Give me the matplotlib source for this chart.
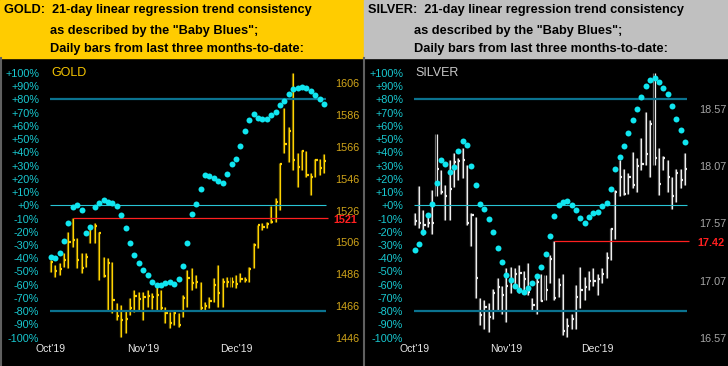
import matplotlib
matplotlib.use("Agg")
import matplotlib.pyplot as plt
import matplotlib.patches as mpatches
import matplotlib.transforms as mtransforms
from matplotlib.lines import Line2D
import numpy as np

plt.rcParams['font.family'] = ['Liberation Sans', 'DejaVu Sans']

W, H = 728, 366

months = ["Oct'19", "Nov'19", "Dec'19"]
month_pos = [0, 21, 42]
pct_ticks = list(range(-100, 101, 10))

# gold daily bars (high / low / close) and the "Baby Blues" consistency (%)
gold_high = [1494.9, 1491.7, 1492.8, 1499.1, 1512.7, 1521.0, 1508.5, 1499.1, 1499.1, 1515.8,
             1517.9, 1512.7, 1496.9, 1495.9, 1493.8, 1467.6, 1466.6, 1463.4, 1470.8, 1476.0,
             1474.9, 1474.9, 1476.0, 1474.3, 1479.1, 1476.0, 1465.5, 1462.4, 1463.4, 1461.3,
             1472.9, 1488.6, 1489.6, 1485.4, 1481.2, 1468.6, 1471.8, 1483.4, 1491.7, 1483.4,
             1484.4, 1484.4, 1485.4, 1486.5, 1484.4, 1490.7, 1505.4, 1516.9, 1517.9, 1519.0,
             1529.0, 1533.7, 1556.1, 1590.3, 1578.7, 1612.7, 1562.0, 1564.0, 1563.6, 1549.4,
             1558.2, 1558.2, 1561.3]
gold_low = [1487.5, 1484.4, 1485.4, 1490.7, 1489.6, 1503.2, 1489.6, 1486.5, 1490.7, 1505.4,
            1505.4, 1482.3, 1484.4, 1463.4, 1461.3, 1457.1, 1446.3, 1448.8, 1460.3, 1462.4,
            1463.4, 1457.1, 1465.5, 1463.9, 1463.4, 1463.4, 1455.1, 1451.9, 1454.0, 1452.9,
            1459.2, 1465.5, 1476.0, 1477.1, 1463.4, 1463.4, 1464.5, 1468.6, 1465.5, 1465.5,
            1478.1, 1478.1, 1477.1, 1481.2, 1481.2, 1481.2, 1489.6, 1502.2, 1513.7, 1514.8,
            1517.9, 1519.0, 1526.3, 1562.0, 1556.7, 1551.5, 1541.0, 1551.5, 1547.3, 1535.7,
            1547.3, 1548.3, 1549.4]
gold_close = [1493.8, 1487.9, 1489.0, 1494.9, 1506.4, 1507.4, 1494.9, 1489.6, 1496.9, 1515.8,
              1516.3, 1511.7, 1484.8, 1492.8, 1469.7, 1459.6, 1457.1, 1457.6, 1464.5, 1472.2,
              1470.2, 1471.4, 1472.2, 1471.4, 1472.9, 1464.5, 1461.3, 1455.1, 1461.3, 1454.0,
              1470.8, 1483.4, 1480.6, 1481.2, 1464.5, 1466.1, 1469.3, 1479.1, 1474.3, 1480.8,
              1480.8, 1480.8, 1479.8, 1482.9, 1482.3, 1489.2, 1504.3, 1516.9, 1515.8, 1517.5,
              1518.6, 1531.5, 1555.1, 1567.8, 1576.0, 1557.8, 1553.2, 1563.4, 1548.3, 1546.9,
              1557.8, 1552.5, 1557.3]
gold_blues = [-39.3, -39.8, -36.3, -27.0, -13.1, -1.3, 0.5, -3.3, -21.2, -16.2,
              -1.3, 2.0, 4.0, 2.7, 1.5, -0.3, -7.6, -17.4, -28.3, -37.3,
              -43.4, -49.1, -52.9, -57.7, -60.2, -60.2, -58.5, -57.7, -59.5, -55.7,
              -45.6, -28.3, -6.6, 0.8, 12.5, 22.9, 22.4, 20.9, 18.4, 16.6,
              23.6, 31.2, 35.2, 44.6, 56.1, 64.2, 69.2, 66.2, 65.0, 65.0,
              68.0, 70.7, 75.6, 78.6, 84.1, 87.6, 88.9, 89.2, 88.9, 86.1,
              83.1, 80.1, 76.3]
gold_ticks = [1446, 1466, 1486, 1506, 1526, 1546, 1566, 1586, 1606]
gold_ref = 1521
gold_ref_start = 5

# silver daily bars and its "Baby Blues"
silver_high = [17.66, 17.90, 17.69, 17.66, 17.86, 18.35, 18.04, 17.91, 18.13, 18.19,
               18.14, 18.23, 18.08, 17.66, 17.63, 16.92, 16.90, 16.87, 17.00, 17.09,
               17.02, 17.18, 17.19, 17.18, 17.21, 17.15, 17.22, 16.92, 17.10, 17.13,
               17.12, 17.29, 17.42, 17.09, 17.13, 16.74, 16.78, 17.03, 17.19, 17.10,
               17.15, 17.18, 17.13, 17.18, 17.32, 17.53, 17.86, 18.13, 18.05, 18.01,
               18.20, 18.14, 18.32, 18.55, 18.48, 18.89, 18.23, 18.16, 18.13, 17.98,
               18.05, 18.05, 18.19]
silver_low = [17.56, 17.53, 17.47, 17.54, 17.48, 17.81, 17.83, 17.60, 17.60, 17.89,
              17.95, 17.97, 17.56, 17.37, 16.92, 16.68, 16.65, 16.62, 16.73, 16.81,
              16.78, 16.71, 16.96, 17.02, 16.96, 16.96, 16.94, 16.81, 16.78, 16.89,
              16.90, 17.05, 16.90, 16.93, 16.59, 16.58, 16.65, 16.65, 16.83, 16.90,
              16.99, 17.02, 16.94, 17.05, 17.09, 17.25, 17.43, 17.81, 17.82, 17.83,
              17.88, 17.85, 18.04, 18.08, 17.98, 18.08, 17.82, 18.04, 17.85, 17.70,
              17.76, 17.88, 17.91]
silver_close = [17.59, 17.57, 17.56, 17.57, 17.57, 18.05, 17.85, 17.81, 17.87, 18.11,
                18.12, 18.13, 17.57, 17.64, 17.09, 16.77, 16.84, 16.75, 16.96, 17.01,
                16.94, 17.02, 17.08, 17.13, 17.14, 17.08, 16.97, 16.86, 17.06, 16.89,
                16.99, 17.26, 16.92, 17.03, 16.63, 16.67, 16.73, 16.93, 16.99, 17.01,
                17.07, 17.07, 17.08, 17.13, 17.27, 17.52, 17.85, 17.98, 17.83, 17.98,
                17.91, 18.07, 18.09, 18.18, 18.44, 18.14, 17.92, 18.14, 17.98, 17.81,
                18.01, 17.95, 18.05]
silver_blues = [-34.0, -29.2, -20.2, -7.7, 1.0, 16.6, 34.2, 31.2, 25.4, 29.2,
                41.3, 48.8, 45.8, 29.5, 15.3, 0.8, -2.6, -10.6, -20.2, -32.3,
                -43.1, -52.7, -56.7, -60.7, -64.2, -65.3, -62.7, -58.5, -53.2, -46.4,
                -37.0, -23.0, -8.1, 0.5, 2.7, 3.2, 0.5, -3.8, -9.4, -13.6,
                -8.8, -6.0, -4.8, -0.5, 1.5, 12.1, 27.2, 36.3, 45.0, 54.4,
                64.7, 72.5, 81.8, 90.1, 94.7, 96.4, 92.9, 88.9, 84.1, 74.8,
                65.4, 56.7, 48.1]
silver_ticks = [16.57, 17.07, 17.57, 18.07, 18.57]
silver_ref = 17.42
silver_ref_start = 32

header_lines_gold = ['GOLD:  21-day linear regression trend consistency',
                     'as described by the "Baby Blues";',
                     'Daily bars from last three months-to-date:']
header_lines_silver = ['SILVER:  21-day linear regression trend consistency',
                       'as described by the "Baby Blues";',
                       'Daily bars from last three months-to-date:']


def fx(px):
    return px / W


def fy(py):
    return 1 - py / H


fig = plt.figure(figsize=(W / 100, H / 100), dpi=100, facecolor='black')


def panel(x0, hdr_color, hdr_lines, name, name_color, high, low, close, blues,
          pylim, pticks, pfmt, pcolor, ref, ref_start, bar_color, shade_color, step):
    # header band
    fig.patches.append(mpatches.Rectangle((fx(x0), fy(58)), fx(364), 58 / H,
                                          transform=fig.transFigure, color=hdr_color, zorder=0))
    fig.text(fx(x0 + 3.5), fy(13.5), hdr_lines[0], fontsize=9.2, fontweight='bold', color='black', va='baseline')
    fig.text(fx(x0 + 50), fy(34), hdr_lines[1], fontsize=9.2, fontweight='bold', color='black', va='baseline')
    fig.text(fx(x0 + 50), fy(52.3), hdr_lines[2], fontsize=9.2, fontweight='bold', color='black', va='baseline')

    left, right = x0 + 44, x0 + 332
    ax = fig.add_axes([fx(left), fy(342), fx(right - left), (342 - 60) / H])
    ax.set_facecolor('black')
    ax2 = ax.twinx()   # consistency (%) axis, drawn on top

    n = len(high)
    idx = np.arange(n)
    first_px = x0 + 50.7
    ax.set_xlim((left - first_px) / step, (right - first_px) / step)
    ax.set_ylim(*pylim)

    # bars: darker shade + bright line + close tick
    ax.vlines(idx - 0.23, low, high, color=shade_color, lw=0.9)
    ax.vlines(idx, low, high, color=bar_color, lw=0.9)
    ax.hlines(close, idx, idx + 0.5, color=bar_color, lw=1.6)

    ax.hlines(ref, ref_start, n - 0.1, color='#FF2020', lw=0.9)
    ax.yaxis.tick_right()
    ax.set_yticks(pticks, [pfmt.format(v) for v in pticks])
    ax.tick_params(axis='y', length=0, pad=2.2, labelsize=7.8, labelcolor=pcolor)
    trans = mtransforms.blended_transform_factory(ax.transAxes, ax.transData)
    trans = trans + mtransforms.ScaledTranslation(0, -2 / 100, fig.dpi_scale_trans)
    ax.text(1.0 + 1.5 / (right - left), ref, pfmt.format(ref), transform=trans, color='#FF2020',
            fontsize=7.8, fontweight='bold', va='center', ha='left')

    ax.set_xticks(month_pos, months)
    ax.tick_params(axis='x', length=0, pad=1.5, labelsize=7.5, labelcolor='#E8E8E8')
    for s in ax.spines.values():
        s.set_visible(False)

    ax2.yaxis.tick_left()
    ax2.set_ylim(-103.3, 109.8)
    ax2.set_yticks(pct_ticks, ['{:+d}%'.format(v) for v in pct_ticks])
    ax2.tick_params(axis='y', length=0, pad=3.6, labelsize=7.8, labelcolor='#18C8D0')
    for s in ax2.spines.values():
        s.set_visible(False)
    ax2.hlines([80, -80], -0.2, 62.5, color='#0B7390', lw=1.6)
    ax2.hlines(0, -0.2, 62.5, color='#28C4D4', lw=0.8)
    ax2.plot(idx, blues, 'o', color='#10E6F0', ms=4.3, mec='none')
    ax2.text(0.05, 100, name, color=name_color, fontsize=9, va='center', ha='left')


panel(0, '#FFCC00', header_lines_gold, 'GOLD', '#F5C400', gold_high, gold_low, gold_close,
      gold_blues, (1443.3, 1620.65), gold_ticks, '{:.0f}', '#D2A61A', gold_ref, gold_ref_start,
      '#FFD200', '#7C6800', 4.41)
panel(364, '#C0C0C0', header_lines_silver, 'SILVER', '#C8C8C8', silver_high, silver_low, silver_close,
      silver_blues, (16.532, 19.0017), silver_ticks, '{:.2f}', '#A6A6A6', silver_ref, silver_ref_start,
      '#EEEEEE', '#6A6A6A', 4.36)

# panel separators
for xp in (0.5, 363.5):
    fig.add_artist(Line2D([fx(xp), fx(xp)], [fy(58), 0], transform=fig.transFigure,
                          color='#606060', lw=1.5))

fig.savefig('out.png', dpi=100, facecolor='black')
